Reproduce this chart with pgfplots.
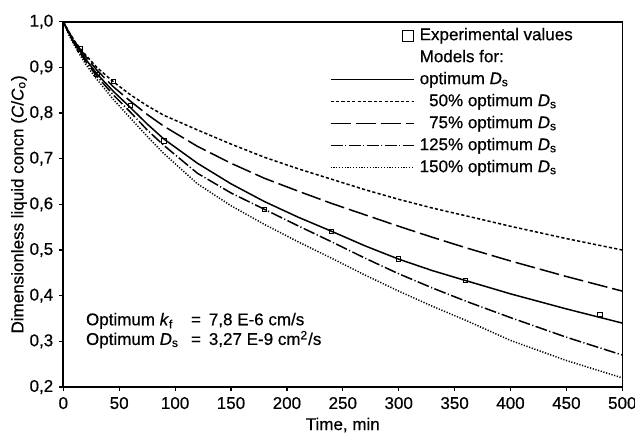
\documentclass[border=0pt]{standalone}
\usepackage{fontspec}
\setmainfont{Liberation Sans}[FakeBold=0.5]
\usepackage{pgfplots}
\pgfplotsset{compat=1.18}

% Model curves: C/C0 versus time (min) for several surface diffusivities
\pgfplotstableread{
t    opt    half   tq     ofq    ohf
0    1.000  1.000  1.000  1.000  1.000
5    0.975  0.978  0.977  0.973  0.971
10   0.954  0.958  0.957  0.951  0.948
15   0.936  0.942  0.940  0.932  0.927
20   0.918  0.927  0.924  0.913  0.907
30   0.886  0.900  0.894  0.881  0.874
45   0.847  0.868  0.857  0.839  0.829
60   0.812  0.840  0.826  0.802  0.789
75   0.776  0.816  0.797  0.763  0.749
90   0.743  0.795  0.771  0.729  0.711
120  0.690  0.763  0.727  0.668  0.645
150  0.645  0.732  0.690  0.625  0.597
180  0.606  0.703  0.657  0.589  0.556
210  0.572  0.678  0.629  0.553  0.518
240  0.541  0.655  0.602  0.518  0.482
270  0.509  0.632  0.577  0.482  0.445
300  0.480  0.611  0.552  0.448  0.410
330  0.455  0.592  0.528  0.417  0.377
360  0.433  0.575  0.505  0.388  0.346
400  0.404  0.552  0.476  0.352  0.302
450  0.371  0.525  0.442  0.309  0.258
500  0.340  0.500  0.410  0.270  0.220
}\models

% Measured liquid-phase concentrations
\pgfplotstableread{
t    c
15   0.940
30   0.884
45   0.869
60   0.816
90   0.739
180  0.589
240  0.540
300  0.480
360  0.433
480  0.359
}\expdata

\begin{document}
\fontsize{8.5pt}{10pt}\selectfont
\begin{tikzpicture}
\useasboundingbox (-31.65pt,-23pt) rectangle (285.85pt,193.5pt);
\begin{axis}[
  at={(0pt,0pt)}, anchor=south west,
  scale only axis, width=279.5pt, height=182.65pt,
  xmin=0, xmax=500, ymin=0.2, ymax=1.0,
  xtick={0,50,...,500},
  ytick={0.2,0.3,0.4,0.5,0.6,0.7,0.8,0.9,1.0},
  tick align=outside, tick pos=left, major tick length=2pt,
  axis line style={line width=0.8pt},
  every tick/.style={black, line width=0.6pt},
  /pgf/number format/assume math mode=true,
  ticklabel style={font=\fontsize{8.5pt}{10pt}\selectfont},
  yticklabel style={/pgf/number format/.cd, fixed, fixed zerofill, precision=1, use comma},
  xlabel={Time, min},
  ylabel={Dimensionless liquid concn (\textit{C}/\textit{C}\textsubscript{o})},
  every axis x label/.style={at={(axis description cs:0.5,-0.104)}, anchor=center},
  every axis y label/.style={at={(axis description cs:-0.0792,0.5)}, rotate=90, anchor=center},
  legend cell align=left,
  legend style={draw=none, fill=none, inner sep=0pt, outer sep=0pt,
    at={(rel axis cs:0.477,0.985)}, anchor=north west,
    font=\fontsize{8.5pt}{10pt}\selectfont,
    nodes={inner sep=0pt, text height=6.5pt, text depth=2pt},
    row sep=2.5pt},
  legend image code/.code={\draw[#1] (0pt,0pt) -- (41.5pt,0pt); \path[draw=none] (44.5pt,0pt);},
]
\addlegendimage{legend image code/.code={\draw[line width=0.6pt] (36pt,-2.75pt) rectangle (41.5pt,2.75pt); \path[draw=none] (0pt,0pt) (44.5pt,0pt);}}
\addlegendentry{Experimental values}
\addlegendimage{empty legend}
\addlegendentry{Models for:}
\addlegendimage{line width=0.75pt}
\addlegendentry{optimum \textit{D}\textsubscript{s}}
\addlegendimage{line width=0.75pt, dash pattern=on 1.6pt off 1.1pt}
\addlegendentry{\phantom{1}50\% optimum \textit{D}\textsubscript{s}}
\addlegendimage{line width=0.75pt, dash pattern=on 10pt off 2.5pt}
\addlegendentry{\phantom{1}75\% optimum \textit{D}\textsubscript{s}}
\addlegendimage{line width=0.75pt, dash pattern=on 6pt off 1.2pt on 0.6pt off 1.2pt}
\addlegendentry{125\% optimum \textit{D}\textsubscript{s}}
\addlegendimage{line width=0.75pt, dash pattern=on 0.6pt off 0.8pt}
\addlegendentry{150\% optimum \textit{D}\textsubscript{s}}

\addplot[forget plot, line width=0.75pt] table[x=t, y=opt] {\models};
\addplot[forget plot, line width=0.75pt, dash pattern=on 1.6pt off 1.1pt] table[x=t, y=half] {\models};
\addplot[forget plot, line width=0.75pt, dash pattern=on 10pt off 2.5pt] table[x=t, y=tq] {\models};
\addplot[forget plot, line width=0.75pt, dash pattern=on 6pt off 1.2pt on 0.6pt off 1.2pt] table[x=t, y=ofq] {\models};
\addplot[forget plot, line width=0.75pt, dash pattern=on 0.6pt off 0.8pt] table[x=t, y=ohf] {\models};
\addplot[forget plot, only marks, mark=square, mark size=1.1pt, mark options={line width=0.5pt, fill=white}] table[x=t, y=c] {\expdata};

\node[anchor=west, inner sep=0pt, font=\fontsize{8.5pt}{10pt}\selectfont] at (axis cs:20,0.322) {%
  \renewcommand{\arraystretch}{0.95}%
  \begin{tabular}{@{}l@{\hspace{6pt}}c@{\hspace{4pt}}l@{}}
  Optimum \textit{k}\textsubscript{f} & = & 7,8 E-6 cm/s\\
  Optimum \textit{D}\textsubscript{s} & = & 3,27 E-9 cm\textsuperscript{2}/s
  \end{tabular}};
\end{axis}
\end{tikzpicture}
\end{document}
